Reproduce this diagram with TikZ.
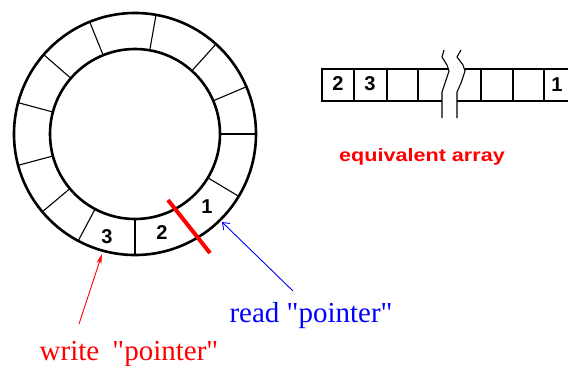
\documentclass[tikz,border=0pt]{standalone}
\usepackage{fontspec}
\setmainfont{Liberation Serif}
\newfontfamily\cellfont{Liberation Sans}
\newfontfamily\widefont{Liberation Sans}[FakeStretch=1.2]
\usetikzlibrary{calc, arrows.meta}

\begin{document}
\begin{tikzpicture}[
    x=1pt, y=-1pt,
    ring/.style={line width=2.6pt},
    sep/.style={line width=1.1pt},
    cell/.style={
        font=\cellfont\bfseries\fontsize{20}{20}\selectfont,
        inner sep=0pt
    },
    note/.style={font=\fontsize{29}{29}\selectfont, inner sep=0pt, anchor=base},
    eqv/.style={text=red, font=\widefont\bfseries\fontsize{18}{18}\selectfont, inner sep=0pt},
    ptr/.style={line width=0.9pt}
]
\useasboundingbox (0,0) rectangle (568,365);

\coordinate (ctr) at (135,134);
\draw[ring] (ctr) circle[radius=121];
\draw[ring] (ctr) circle[radius=85];
\foreach \a in {0,-23,-48,-80,-112,-139,-165,165,140,118,90,31}
    \draw[sep] ($(ctr)+(\a:85)$) -- ($(ctr)+(\a:121)$);
\draw[red, line width=4pt] (168,200) -- (210,253);

\node[cell] (one) at (207,207) {1};
\node[cell] (two) at (162,233) {2};
\node[cell] (three) at (107,237) {3};

\draw[ring] (449,69) -- (322,69) -- (322,101) -- (442,101);
\draw[ring] (568,69) -- (465,69);
\draw[ring] (457,101) -- (568,101);
\foreach \x in {354,387,418,481,513,544}
    \draw[sep] (\x,69) -- (\x,101);
\draw[sep] (444,50) -- (442,57) -- (447,65) -- (449,71) -- (445,83) -- (442,92) -- (442,118);
\draw[sep] (461,50) -- (457,57) -- (463,65) -- (465,71) -- (461,83) -- (457,92) -- (457,118);

\node[cell] (atwo) at (338,84) {2};
\node[cell] (athree) at (370,84) {3};
\node[cell] (aone) at (557,85) {1};
\node[eqv] (equiv) at (422,157) {equivalent array};

\node[note, text=blue] (rd) at (311,322) {read \textquotedbl pointer\textquotedbl};
\node[note, text=red] (wr) at (129,360) {write\hspace{6pt} \textquotedbl pointer\textquotedbl};

\coordinate (rdtip) at (222,222);
\coordinate (rdtail) at (293,291);
\coordinate (wrtip) at (102,254);
\coordinate (wrtail) at (79,324);
\draw[ptr, blue, -{Straight Barb[length=6pt,width=9pt]}] (rdtail) -- (rdtip);
\draw[ptr, red, -{Stealth[length=10pt,width=5pt]}] (wrtail) -- (wrtip);
\end{tikzpicture}
\end{document}
